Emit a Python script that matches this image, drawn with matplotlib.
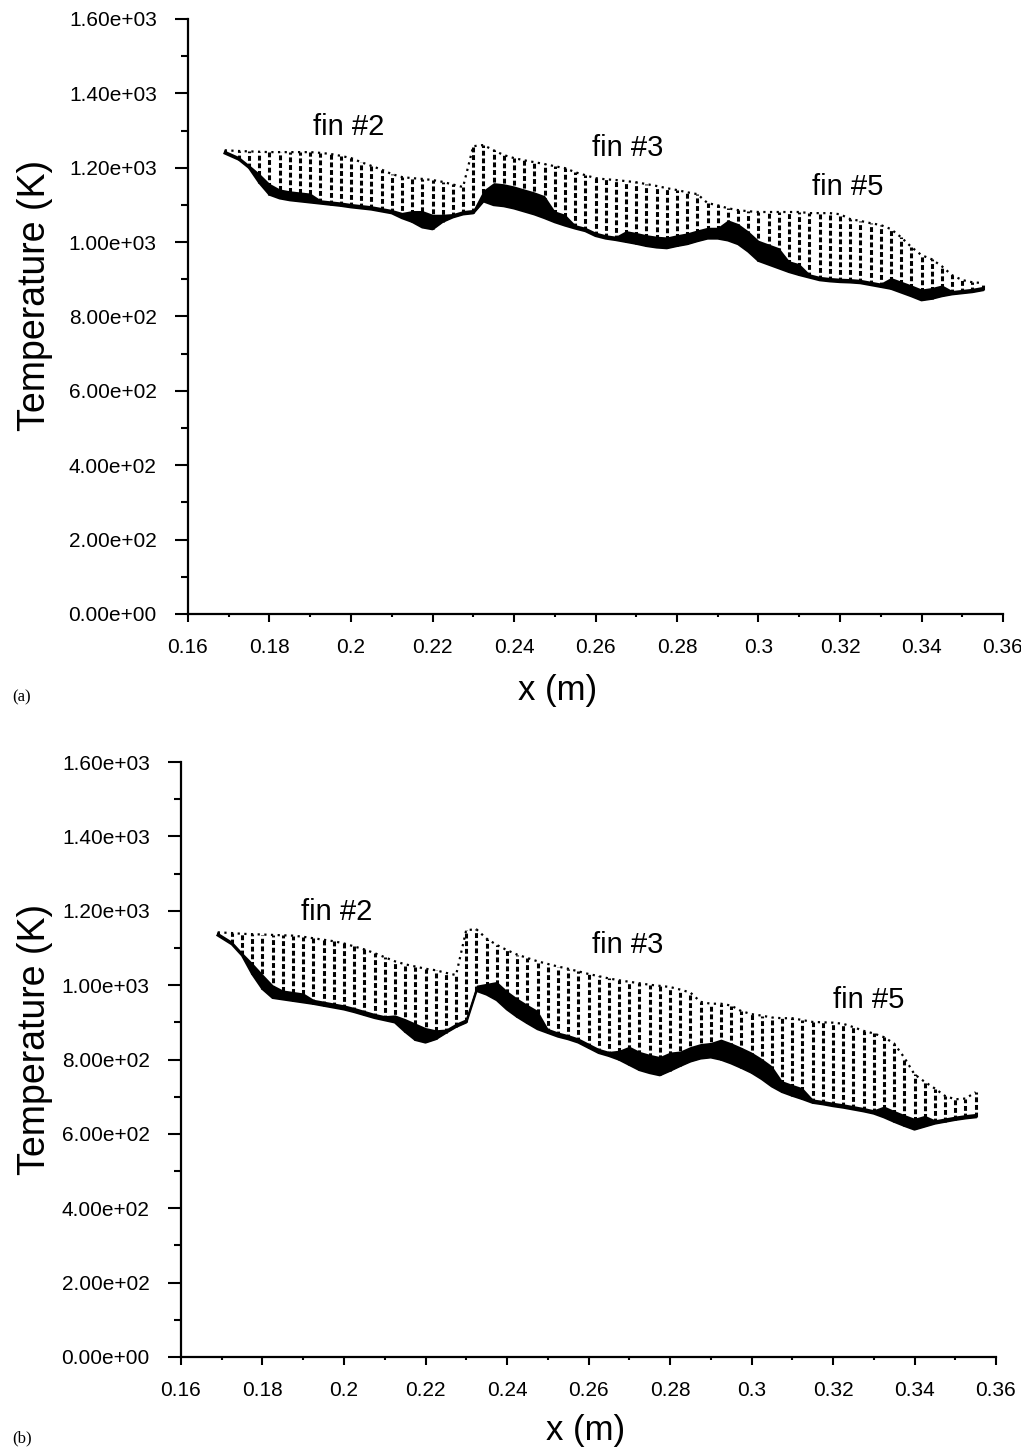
import matplotlib
matplotlib.use("Agg")
import matplotlib.pyplot as plt
from matplotlib.ticker import MultipleLocator, FuncFormatter

plt.rcParams['font.family'] = ['Liberation Sans', 'DejaVu Sans']

# column positions (m) shared by both panels
x_cols = [0.169, 0.1725, 0.175, 0.1775, 0.18, 0.1825, 0.185, 0.1875, 0.19, 0.1925,
          0.195, 0.1975, 0.2, 0.2025, 0.205, 0.2075, 0.21, 0.2125, 0.215, 0.2175,
          0.22, 0.2225, 0.225, 0.2275, 0.23, 0.2325, 0.235, 0.2375, 0.24, 0.2425,
          0.245, 0.2475, 0.25, 0.2525, 0.255, 0.2575, 0.26, 0.2625, 0.265, 0.2675,
          0.27, 0.2725, 0.275, 0.2775, 0.28, 0.2825, 0.285, 0.2875, 0.29, 0.2925,
          0.295, 0.2975, 0.3, 0.3025, 0.305, 0.3075, 0.31, 0.3125, 0.315, 0.3175,
          0.32, 0.3225, 0.325, 0.3275, 0.33, 0.3325, 0.335, 0.3375, 0.34, 0.3425,
          0.345, 0.3475, 0.35, 0.3525, 0.355]

# panel (a): upper / lower temperature of each column (K), and dense-band height (K)
top_a = [1247, 1245, 1244, 1243, 1242, 1242, 1242, 1242, 1242, 1240,
         1237, 1232, 1226, 1215, 1205, 1195, 1183, 1175, 1172, 1170,
         1167, 1162, 1155, 1148, 1258, 1261, 1247, 1234, 1226, 1220,
         1215, 1210, 1204, 1199, 1188, 1180, 1172, 1169, 1167, 1164,
         1161, 1156, 1151, 1145, 1140, 1134, 1129, 1105, 1099, 1091,
         1086, 1083, 1081, 1081, 1081, 1081, 1081, 1078, 1078, 1078,
         1075, 1062, 1057, 1051, 1046, 1035, 1013, 987, 965, 954,
         935, 911, 898, 892, 890]
bot_a = [1239, 1222, 1200, 1160, 1128, 1118, 1113, 1110, 1107, 1104,
         1101, 1098, 1094, 1091, 1088, 1083, 1078, 1065, 1055, 1040,
         1035, 1055, 1067, 1075, 1078, 1110, 1100, 1097, 1091, 1083,
         1075, 1065, 1054, 1045, 1037, 1030, 1017, 1010, 1006, 1001,
         996, 990, 986, 984, 990, 995, 1003, 1010, 1010, 1005,
         995, 975, 950, 940, 930, 920, 912, 905, 898, 895,
         893, 892, 890, 885, 880, 875, 865, 855, 844, 848,
         855, 860, 863, 866, 871]
band_a = [8, 8, 8, 25, 30, 25, 25, 25, 25, 10,
          10, 10, 10, 10, 10, 10, 10, 15, 30, 45,
          40, 20, 10, 10, 10, 30, 60, 60, 60, 60,
          60, 60, 30, 30, 10, 10, 10, 10, 10, 30,
          30, 30, 30, 30, 30, 30, 30, 30, 30, 55,
          55, 55, 55, 55, 55, 30, 30, 10, 10, 10,
          10, 10, 10, 10, 10, 30, 30, 30, 30, 30,
          30, 10, 10, 10, 10]

# panel (b)
top_b = [1142, 1140, 1138, 1137, 1136, 1135, 1134, 1133, 1130, 1126,
         1122, 1118, 1112, 1104, 1096, 1086, 1075, 1064, 1056, 1050,
         1044, 1040, 1033, 1027, 1148, 1150, 1125, 1108, 1094, 1082,
         1073, 1064, 1057, 1050, 1044, 1037, 1030, 1024, 1018, 1013,
         1009, 1005, 1001, 998, 995, 988, 980, 955, 950, 950,
         945, 930, 922, 918, 913, 911, 911, 906, 901, 900,
         899, 896, 887, 877, 870, 860, 843, 805, 760, 740,
         722, 702, 693, 695, 712]
bot_b = [1134, 1110, 1080, 1030, 990, 966, 962, 958, 954, 950,
         945, 940, 935, 928, 920, 912, 906, 900, 875, 853,
         846, 855, 872, 888, 900, 985, 975, 960, 935, 915,
         898, 882, 872, 862, 855, 846, 832, 818, 810, 800,
         786, 772, 764, 758, 770, 783, 795, 803, 806, 800,
         790, 778, 765, 748, 728, 713, 703, 694, 684, 680,
         675, 671, 666, 661, 655, 645, 633, 622, 612, 620,
         628, 633, 638, 642, 645]
band_b = [8, 8, 8, 30, 40, 35, 25, 25, 25, 12,
          12, 12, 12, 12, 12, 12, 12, 20, 35, 45,
          40, 25, 10, 10, 10, 15, 30, 50, 50, 50,
          50, 50, 12, 12, 12, 12, 12, 12, 12, 25,
          50, 50, 50, 50, 50, 40, 40, 40, 40, 55,
          55, 55, 55, 55, 55, 30, 30, 30, 10, 10,
          10, 10, 10, 10, 10, 30, 30, 30, 30, 30,
          10, 10, 10, 10, 10]

fin_labels = ["fin #2", "fin #3", "fin #5"]
fin_pos_a = [(0.1995, 1309), (0.268, 1253), (0.322, 1148)]
fin_pos_b = [(0.1983, 1196), (0.2697, 1107), (0.3288, 960)]

y_ticks = [0, 200, 400, 600, 800, 1000, 1200, 1400, 1600]
x_ticks = [0.16, 0.18, 0.2, 0.22, 0.24, 0.26, 0.28, 0.3, 0.32, 0.34, 0.36]

W, H = 1021, 1451
fig = plt.figure(figsize=(W / 100, H / 100), dpi=100)


def draw_panel(rect, top, bot, band, fin_pos, ylab_xy, xlab_xy):
    ax = fig.add_axes(rect)
    ax.vlines(x_cols, bot, top, colors='k', linewidth=2.2,
              linestyles=[(0, (1.6, 0.9))])
    ax.plot(x_cols, top, color='k', lw=1.6, ls=(0, (1, 2)))
    band_top = [b + h for b, h in zip(bot, band)]
    ax.fill_between(x_cols, bot, band_top, color='k', lw=0)
    ax.plot(x_cols, bot, color='k', lw=1.8)
    for lab, (fx, fy) in zip(fin_labels, fin_pos):
        ax.text(fx, fy, lab, fontsize=21, ha='center', va='center')

    ax.set_xlim(0.16, 0.36)
    ax.set_ylim(0, 1600)
    ax.set_xticks(x_ticks)
    ax.set_yticks(y_ticks)
    ax.xaxis.set_minor_locator(MultipleLocator(0.01))
    ax.yaxis.set_minor_locator(MultipleLocator(100))
    ax.xaxis.set_major_formatter(FuncFormatter(lambda v, p: f"{v:g}"))
    ax.yaxis.set_major_formatter(FuncFormatter(lambda v, p: f"{v:.2e}"))
    for s in ('top', 'right'):
        ax.spines[s].set_visible(False)
    for s in ('left', 'bottom'):
        ax.spines[s].set_linewidth(1.6)
    ax.tick_params(axis='y', which='major', direction='out', length=9.5, width=1.5,
                   labelsize=15, pad=13)
    ax.tick_params(axis='y', which='minor', direction='out', length=5, width=1.5)
    ax.tick_params(axis='x', which='major', direction='out', length=6, width=1.5,
                   labelsize=15, pad=11)
    ax.tick_params(axis='x', which='minor', direction='out', length=2.5, width=1.5)
    ax.text(ylab_xy[0], ylab_xy[1], "Temperature (K)", transform=ax.transAxes,
            rotation=90, ha='center', va='center', fontsize=27)
    ax.text(xlab_xy[0], xlab_xy[1], "x (m)", transform=ax.transAxes,
            ha='center', va='center', fontsize=25)
    return ax


draw_panel([188 / W, 1 - 614 / H, 815 / W, 595 / H], top_a, bot_a, band_a,
           fin_pos_a, (-0.188, 0.536), (0.454, -0.128))
draw_panel([181 / W, 1 - 1357 / H, 815 / W, 595 / H], top_b, bot_b, band_b,
           fin_pos_b, (-0.179, 0.533), (0.496, -0.123))

fig.text(12 / W, 1 - 697 / H, "(a)", fontsize=12, family='Liberation Serif',
         ha='left', va='center')
fig.text(12 / W, 1 - 1438 / H, "(b)", fontsize=12, family='Liberation Serif',
         ha='left', va='center')

fig.savefig("out.png", dpi=100)
